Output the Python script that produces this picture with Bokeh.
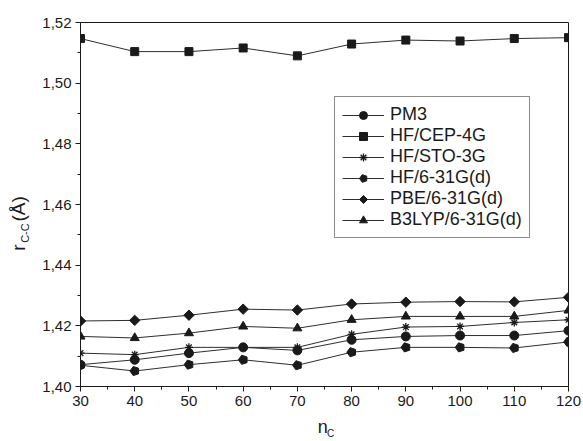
import math
from bokeh.plotting import figure
from bokeh.models import Range1d, CustomJSTickFormatter, FixedTicker, ColumnDataSource, LinearAxis
from bokeh.embed import file_html
from bokeh.resources import INLINE

# ---- data ----
n_c = [30, 40, 50, 60, 70, 80, 90, 100, 110, 120]
pm3 = [1.4072, 1.4088, 1.4110, 1.4129, 1.4119, 1.4154, 1.4165, 1.4168, 1.4168, 1.4184]
hf_cep = [1.5147, 1.5104, 1.5104, 1.5116, 1.5090, 1.5129, 1.5142, 1.5139, 1.5147, 1.5150]
hf_sto = [1.4110, 1.4105, 1.4129, 1.4129, 1.4129, 1.4172, 1.4196, 1.4198, 1.4211, 1.4220]
hf_631 = [1.4070, 1.4051, 1.4072, 1.4088, 1.4070, 1.4113, 1.4129, 1.4129, 1.4127, 1.4147]
pbe_631 = [1.4216, 1.4218, 1.4235, 1.4255, 1.4252, 1.4272, 1.4278, 1.4280, 1.4279, 1.4294]
b3lyp_631 = [1.4165, 1.4160, 1.4176, 1.4198, 1.4192, 1.4220, 1.4231, 1.4231, 1.4231, 1.4251]

x_ticks = [30, 40, 50, 60, 70, 80, 90, 100, 110, 120]
x_minor = [35, 45, 55, 65, 75, 85, 95, 105, 115]
y_ticks = [1.40, 1.42, 1.44, 1.46, 1.48, 1.50, 1.52]
y_minor = [1.41, 1.43, 1.45, 1.47, 1.49, 1.51]

FONT = "Liberation Sans"
INK = "#1a1a1a"
LINE = "#2e2e2e"

p = figure(width=583, height=441, output_backend="svg", toolbar_location=None,
           x_range=Range1d(30, 120), y_range=Range1d(1.40, 1.52),
           min_border_left=80, min_border_right=15, min_border_top=22, min_border_bottom=54)
p.background_fill_color = "white"
p.border_fill_color = "white"
p.xgrid.visible = False
p.ygrid.visible = False
p.outline_line_color = INK
p.outline_line_width = 1

for ax in (p.xaxis[0], p.yaxis[0]):
    ax.axis_line_color = INK
    ax.major_tick_line_color = INK
    ax.minor_tick_line_color = INK
    ax.major_tick_in = 0
    ax.major_tick_out = 5
    ax.minor_tick_in = 0
    ax.minor_tick_out = 3
    ax.major_label_text_font = FONT
    ax.major_label_text_font_size = "15px"
    ax.major_label_text_color = INK
    ax.major_label_standoff = 4
    ax.axis_label_text_font = FONT
    ax.axis_label_text_font_style = "normal"
    ax.axis_label_text_color = INK

p.xaxis.ticker = FixedTicker(ticks=x_ticks, minor_ticks=x_minor)
p.yaxis.ticker = FixedTicker(ticks=y_ticks, minor_ticks=y_minor)
p.yaxis.formatter = CustomJSTickFormatter(code="return tick.toFixed(2).replace('.', ',');")

# axis titles: main letter on the inner axis, subscripts via extra label-only axes
p.xaxis.axis_label = "n\u2009"
p.xaxis.axis_label_text_font_size = "18px"
p.xaxis.axis_label_standoff = 8

p.yaxis.axis_label = "C-C" + "\u2003" * 5 + "\u2009"
p.yaxis.axis_label_text_font_size = "11px"
p.yaxis.axis_label_standoff = 8


def label_axis(text, size, standoff):
    return LinearAxis(ticker=FixedTicker(ticks=[]), axis_label=text,
                      axis_label_text_font=FONT, axis_label_text_font_size=size,
                      axis_label_text_font_style="normal", axis_label_text_color=INK,
                      axis_label_standoff=standoff, axis_line_color=None,
                      major_tick_line_color=None, minor_tick_line_color=None,
                      major_tick_out=0, minor_tick_out=0, major_tick_in=0, minor_tick_in=0,
                      major_label_standoff=0)


p.add_layout(label_axis("\u2003\u2009C", "10px", -12), "below")
p.add_layout(label_axis("r\u2002\u2002\u2009(Å)" + "\u2002" * 4, "19px", -12), "left")

series = [
    ("PM3", pm3, "circle"),
    ("HF/CEP-4G", hf_cep, "square"),
    ("HF/STO-3G", hf_sto, "asterisk"),
    ("HF/6-31G(d)", hf_631, "pentagon"),
    ("PBE/6-31G(d)", pbe_631, "diamond"),
    ("B3LYP/6-31G(d)", b3lyp_631, "triangle"),
]

for name, ys, mk in series:
    src = ColumnDataSource(dict(x=n_c, y=ys))
    p.line("x", "y", source=src, line_color=LINE, line_width=1, legend_label=name)
    if mk == "pentagon":
        p.ngon("x", "y", radius=4.8, radius_units="screen", n=5, angle=math.pi / 2,
               source=src, fill_color=INK, line_color=INK, legend_label=name)
    elif mk == "diamond":
        p.ngon("x", "y", radius=5.2, radius_units="screen", n=4, angle=0,
               source=src, fill_color=INK, line_color=INK, legend_label=name)
    elif mk == "asterisk":
        p.scatter("x", "y", source=src, marker="asterisk", size=8, line_color=INK,
                  line_width=1.3, legend_label=name)
    elif mk == "circle":
        p.scatter("x", "y", source=src, marker="circle", size=9, fill_color=INK,
                  line_color=INK, legend_label=name)
    elif mk == "square":
        p.scatter("x", "y", source=src, marker="square", size=8, fill_color=INK,
                  line_color=INK, legend_label=name)
    else:
        p.scatter("x", "y", source=src, marker="triangle", size=9, fill_color=INK,
                  line_color=INK, legend_label=name)

lg = p.legend[0]
lg.location = (254, 148)
lg.label_text_font = FONT
lg.label_text_font_size = "18px"
lg.label_text_color = INK
lg.border_line_color = INK
lg.border_line_width = 1
lg.background_fill_alpha = 1
lg.padding = 7
lg.spacing = 0
lg.margin = 0
lg.glyph_width = 42
lg.glyph_height = 20
lg.label_height = 20
lg.label_standoff = 6

open("out.html", "w").write(file_html(p, INLINE))
